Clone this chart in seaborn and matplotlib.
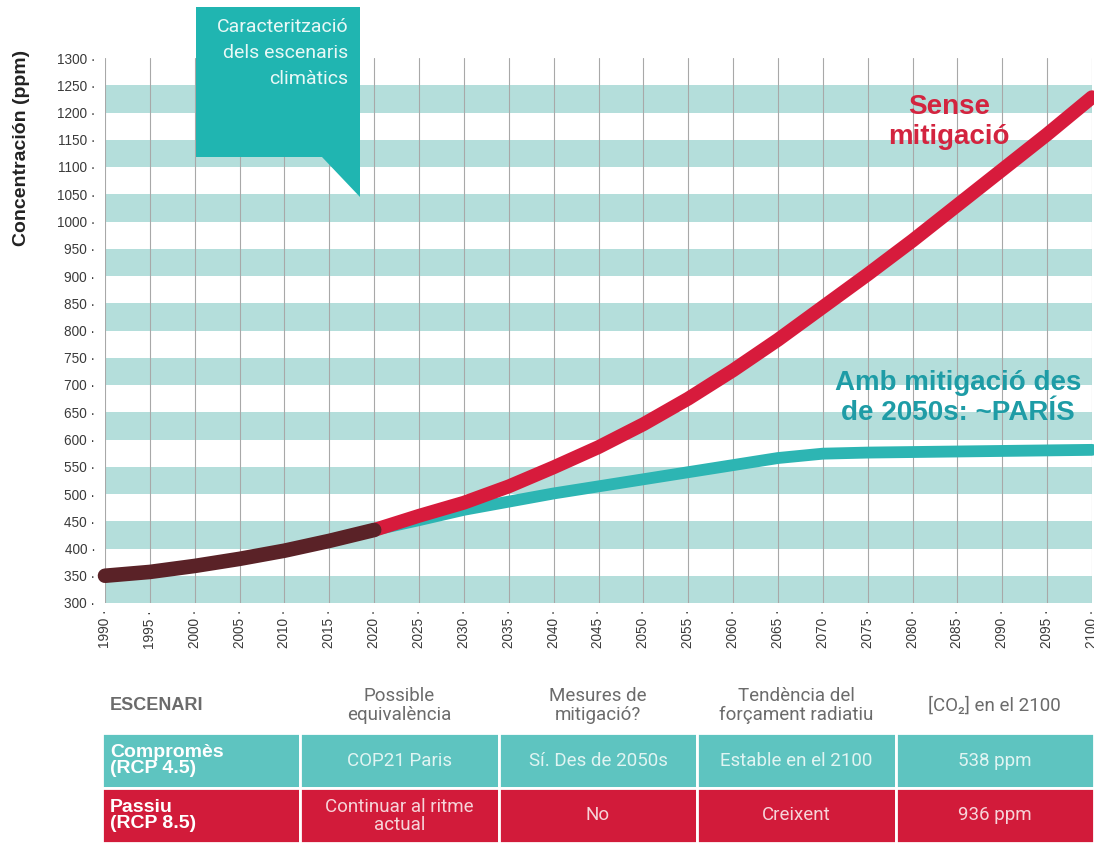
import matplotlib
matplotlib.use("Agg")
import matplotlib.pyplot as plt
from matplotlib.patches import Polygon, Rectangle
import numpy as np
import pandas as pd
import seaborn as sns

# CO2 concentration (ppm)
years_hist = [1990, 1995, 2000, 2005, 2010, 2015, 2020]
co2_hist = [350, 357, 368, 381, 396, 414, 434]

years_proj = [2020, 2025, 2030, 2035, 2040, 2045, 2050, 2055, 2060,
              2065, 2070, 2075, 2080, 2085, 2090, 2095, 2100]
co2_rcp85 = [434, 460, 484, 514, 549, 586, 628, 675, 727,
             783, 843, 903, 965, 1030, 1095, 1160, 1228]
co2_rcp45 = [434, 452, 471, 486, 501, 514, 527, 540, 553,
             566, 574, 576, 577, 578, 579, 580, 581]

# table underneath
table_header = ["ESCENARI", "Possible\nequivalència", "Mesures de\nmitigació?",
                "Tendència del\nforçament radiatiu", "[CO₂] en el 2100"]
row_rcp45 = ["Compromès\n(RCP 4.5)", "COP21 Paris", "Sí. Des de 2050s",
             "Estable en el 2100", "538 ppm"]
row_rcp85 = ["Passiu\n(RCP 8.5)", "Continuar al ritme\nactual", "No",
             "Creixent", "936 ppm"]

RED = "#d71b3c"
TEAL = "#2db5b3"
BROWN = "#5a2227"
BAND = "#b4dedb"
BOX = "#20b5b1"
ROW_TEAL = "#5ec4c0"
ROW_RED = "#d21b3a"

sns.set_style("white")
plt.rcParams["font.family"] = ["Liberation Sans", "DejaVu Sans"]

W, H = 1094, 843
fig = plt.figure(figsize=(W / 100, H / 100), dpi=100)


def fx(x):
    return x / W


def fy(y):
    return 1 - y / H


ax = fig.add_axes([fx(105), fy(603), fx(1092) - fx(105), fy(58) - fy(603)])
ax.set_xlim(1990, 2100)
ax.set_ylim(300, 1300)

# horizontal stripes
for lo in np.arange(300, 1300, 100):
    ax.axhspan(lo, lo + 50, color=BAND, lw=0, zorder=0)

xticks = list(range(1990, 2101, 5))
for yr in xticks:
    ax.axvline(yr, color="#a8a8a8", lw=0.8, zorder=1)

hist = pd.DataFrame({"year": years_hist, "co2": co2_hist})
proj = pd.DataFrame({"year": years_proj, "rcp85": co2_rcp85, "rcp45": co2_rcp45})

sns.lineplot(data=proj, x="year", y="rcp45", color=TEAL, linewidth=8.5,
             solid_capstyle="round", clip_on=False, zorder=3, ax=ax)
sns.lineplot(data=proj, x="year", y="rcp85", color=RED, linewidth=10,
             solid_capstyle="round", clip_on=False, zorder=4, ax=ax)
sns.lineplot(data=hist, x="year", y="co2", color=BROWN, linewidth=10.5,
             solid_capstyle="round", clip_on=False, zorder=5, ax=ax)

yticks = list(range(300, 1301, 50))
ax.set_yticks(yticks)
ax.set_yticklabels([f"{v} ·" for v in yticks])
ax.set_xticks(xticks)
ax.set_xticklabels([f"{v} ·" for v in xticks], rotation=90)
ax.tick_params(axis="both", length=0, labelsize=9.8, labelcolor="#3a3a3a")
ax.tick_params(axis="y", pad=7)
ax.tick_params(axis="x", pad=5)
ax.set_xlabel("")
ax.set_ylabel("")
for s in ax.spines.values():
    s.set_visible(False)

ax.text(2084.1, 1182, "Sense\nmitigació", color="#d3243f", fontsize=20,
        fontweight="bold", ha="center", va="center", linespacing=1.2, zorder=6)
ax.text(2085.1, 676, "Amb mitigació des\nde 2050s: ~PARÍS", color="#1e9ca6",
        fontsize=20, fontweight="bold", ha="center", va="center",
        linespacing=1.2, zorder=6)

fig.text(fx(22), fy(148), "Concentración (ppm)", rotation=90, ha="center",
         va="center", fontsize=14, fontweight="bold", color="#222222")

# callout box on an overlay in pixel units
ov = fig.add_axes([0, 0, 1, 1], zorder=10)
ov.set_xlim(0, W)
ov.set_ylim(H, 0)
ov.axis("off")
ov.patch.set_alpha(0)
ov.add_patch(Polygon([(196, 7), (360, 7), (360, 197), (322, 157), (196, 157)],
                     closed=True, facecolor=BOX, edgecolor="none"))
ov.text(348, 53, "Caracterització\ndels escenaris\nclimàtics", ha="right",
        va="center", fontsize=14, color="#e8f8f6", linespacing=1.55,
        family=["Roboto", "DejaVu Sans"])

# scenario table
tab = fig.add_axes([fx(102), fy(843), fx(1094) - fx(102), fy(678) - fy(843)])
tab.set_xlim(0, 5)
tab.set_ylim(3, 0)
tab.axis("off")

for c, txt in enumerate(table_header):
    if c == 0:
        tab.text(0.04, 0.5, txt, ha="left", va="center", fontsize=13,
                 fontweight="bold", color="#6b6b6b")
    else:
        tab.text(c + 0.5, 0.5, txt, ha="center", va="center", fontsize=13.5,
                 color="#6b6b6b", linespacing=1.05,
                 family=["Roboto", "DejaVu Sans"])

for r, (row, fill, tcol) in enumerate([(row_rcp45, ROW_TEAL, "#e0f4f2"),
                                       (row_rcp85, ROW_RED, "#f6d4d9")], start=1):
    for c, txt in enumerate(row):
        tab.add_patch(Rectangle((c, r), 1, 1, facecolor=fill,
                                edgecolor="white", lw=2))
        if c == 0:
            tab.text(0.04, r + 0.5, txt, ha="left", va="center", fontsize=14,
                     fontweight="bold", color="white", linespacing=0.95)
        else:
            tab.text(c + 0.5, r + 0.5, txt, ha="center", va="center",
                     fontsize=13.5, color=tcol, linespacing=1.0,
                     family=["Roboto", "DejaVu Sans"])

fig.savefig("out.png", dpi=100, facecolor="white")
